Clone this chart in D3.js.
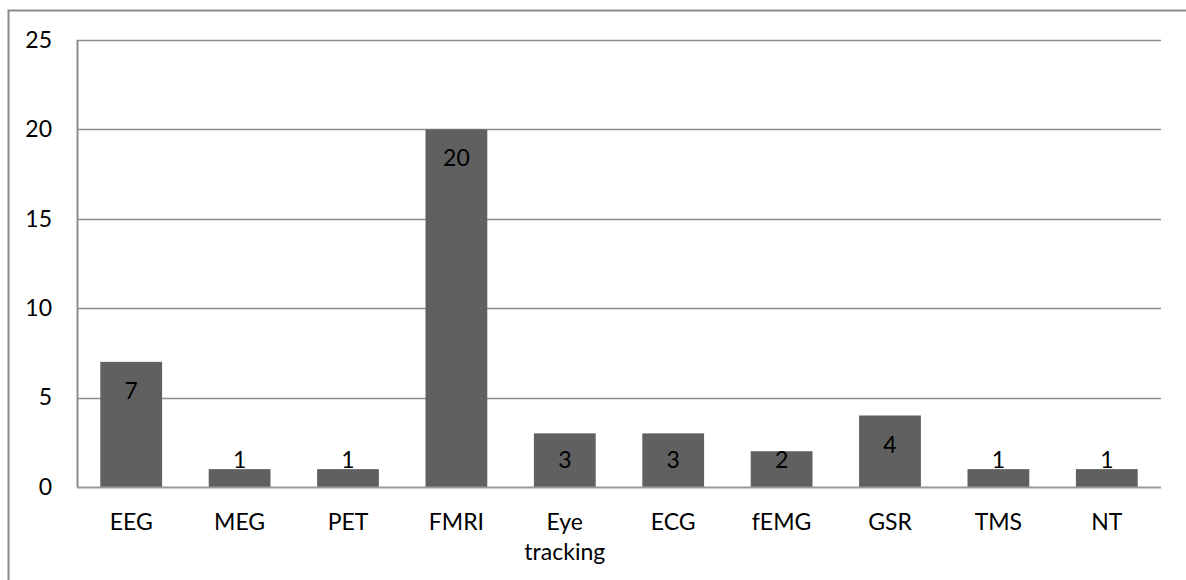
<!DOCTYPE html>
<html>
<head>
<meta charset="utf-8">
<script src="https://cdn.jsdelivr.net/npm/d3@7"></script>
<style>
  body { margin: 0; background: #fff; }
  svg { display: block; font-family: Lato, Calibri, sans-serif; }
</style>
</head>
<body>
<div id="chart"></div>
<script>
// data
var categories = ['EEG', 'MEG', 'PET', 'FMRI', 'Eye tracking', 'ECG', 'fEMG', 'GSR', 'TMS', 'NT']
var counts = [7, 1, 1, 20, 3, 3, 2, 4, 1, 1]
var yTicks = [0, 5, 10, 15, 20, 25]

var W = 1186, H = 580
var margin = { top: 40, right: 25, bottom: 93, left: 77 }
var w = W - margin.left - margin.right
var h = H - margin.top - margin.bottom

var svg = d3.select('#chart')
  .append('svg')
  .attr('width', W)
  .attr('height', H)

// outer frame (cropped on right and bottom)
svg.append('rect')
  .attr('x', 8.5)
  .attr('y', 10.5)
  .attr('width', W + 20)
  .attr('height', H + 20)
  .attr('fill', 'none')
  .attr('stroke', '#8c8c8c')
  .attr('stroke-width', 2)

var g = svg.append('g')
  .attr('transform', 'translate(' + margin.left + ',' + margin.top + ')')

var x = d3.scaleBand()
  .domain(categories)
  .range([0, w])
  .paddingInner(0.43)
  .paddingOuter(0.215)

var y = d3.scaleLinear()
  .domain([0, 25])
  .range([h, 0])

// gridlines
g.selectAll('.grid')
  .data(yTicks.filter(function (d) { return d > 0 }))
  .enter()
  .append('line')
  .attr('class', 'grid')
  .attr('x1', 0)
  .attr('x2', w)
  .attr('y1', function (d) { return Math.round(y(d)) + 0.5 })
  .attr('y2', function (d) { return Math.round(y(d)) + 0.5 })
  .attr('stroke', '#8c8c8c')
  .attr('stroke-width', 1.5)

// y axis
var yAxis = d3.axisLeft(y)
  .tickValues(yTicks)
  .tickSize(0)
  .tickPadding(25)

var yg = g.append('g').call(yAxis)
yg.select('.domain').remove()
yg.selectAll('text')
  .attr('font-size', 23)
  .attr('font-family', 'Lato, Calibri, sans-serif')
  .attr('fill', '#000')

g.append('line')
  .attr('x1', 0.5).attr('x2', 0.5)
  .attr('y1', 0).attr('y2', h)
  .attr('stroke', '#8c8c8c')
  .attr('stroke-width', 2)

// bars
g.selectAll('.bar')
  .data(counts)
  .enter()
  .append('rect')
  .attr('class', 'bar')
  .attr('x', function (d, i) { return x(categories[i]) })
  .attr('width', x.bandwidth())
  .attr('y', function (d) { return y(d) })
  .attr('height', function (d) { return h - y(d) })
  .attr('fill', '#606060')

// x axis line
g.append('line')
  .attr('x1', 0).attr('x2', w)
  .attr('y1', h + 0.5).attr('y2', h + 0.5)
  .attr('stroke', '#999')
  .attr('stroke-width', 2)

// value labels (inside end, clamped above baseline)
g.selectAll('.val')
  .data(counts)
  .enter()
  .append('text')
  .attr('class', 'val')
  .attr('x', function (d, i) { return x(categories[i]) + x.bandwidth() / 2 })
  .attr('y', function (d) { return Math.min(y(d) + 29, h - 27) })
  .attr('dy', '0.35em')
  .attr('text-anchor', 'middle')
  .attr('font-size', 23)
  .attr('fill', '#000')
  .text(function (d) { return d })

// category labels
var cat = g.selectAll('.cat')
  .data(categories)
  .enter()
  .append('text')
  .attr('class', 'cat')
  .attr('x', function (d) { return x(d) + x.bandwidth() / 2 })
  .attr('y', h + 43)
  .attr('text-anchor', 'middle')
  .attr('font-size', 23)
  .attr('fill', '#000')

cat.each(function (d) {
  var words = d.split(' ')
  var t = d3.select(this)
  words.forEach(function (wd, i) {
    t.append('tspan')
      .attr('x', t.attr('x'))
      .attr('dy', i === 0 ? 0 : 30)
      .text(wd)
  })
})
</script>
</body>
</html>
